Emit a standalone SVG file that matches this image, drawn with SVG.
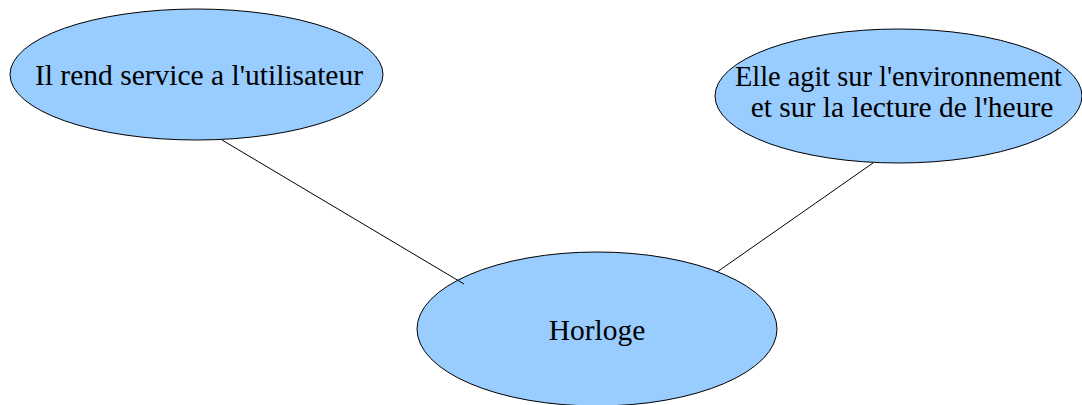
<svg xmlns="http://www.w3.org/2000/svg" width="1082" height="405" viewBox="0 0 1082 405">
<style>
.n{fill:#99ccff;stroke:#000;stroke-width:1}
.t{font-family:"Liberation Serif","Times New Roman",serif;font-size:29.5px;fill:#000;text-anchor:middle}
.c{stroke:#000;stroke-width:1;fill:none}
</style>
<rect width="1082" height="405" fill="#fff"/>
<g id="node-utilisateur">
<ellipse class="n" cx="196.5" cy="74.5" rx="186.5" ry="65.5"/>
<text class="t" x="199" y="85">Il rend service a l'utilisateur</text>
</g>
<g id="node-environnement">
<ellipse class="n" cx="898.5" cy="96" rx="183.5" ry="67"/>
<text class="t" x="898.5" y="86" textLength="327" lengthAdjust="spacingAndGlyphs">Elle agit sur l'environnement</text>
<text class="t" x="902" y="117">et sur la lecture de l'heure</text>
</g>
<g id="node-horloge">
<ellipse class="n" cx="597" cy="329" rx="180" ry="77"/>
<text class="t" x="597" y="340">Horloge</text>
</g>
<g id="connectors">
<line class="c" x1="222" y1="140" x2="464" y2="284"/>
<line class="c" x1="873" y1="163" x2="717" y2="272"/>
</g>
</svg>
